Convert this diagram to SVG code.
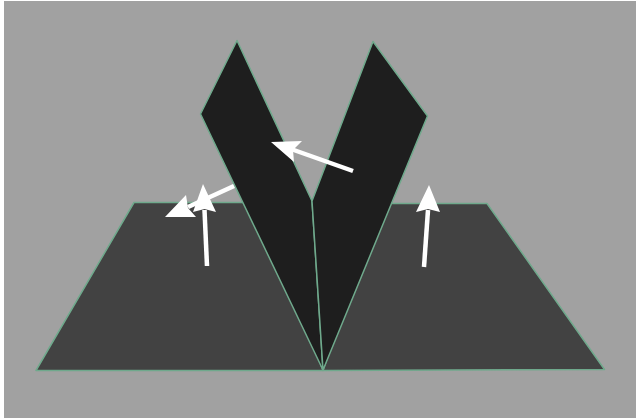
<svg xmlns="http://www.w3.org/2000/svg" width="636" height="418" viewBox="0 0 636 418">
<style>
.plane{fill:#424242;stroke:#6fa98c;stroke-width:1.5;stroke-linejoin:round}
.wing{fill:#1e1e1e;stroke:#6fa98c;stroke-width:1.5;stroke-linejoin:round}
.shaft{stroke:#fff;stroke-width:4.5;fill:none}
.head{fill:#fff}
</style>
<rect width="636" height="418" fill="#fff"/>
<rect x="4" y="1" width="632" height="417" fill="#a1a1a1"/>
<g id="floor-left"><polygon class="plane" points="134,202.500 260,202.500 323,370.500 36,370.500"/></g>
<g id="floor-right"><polygon class="plane" points="380,203.500 487,203.500 604.500,369.500 323,370.500"/></g>
<g id="wing-left"><polygon class="wing" points="237,40.500 312,201 323,370 200.500,114"/></g>
<g id="wing-right"><polygon class="wing" points="373,41.500 427.500,116 323,370 312,201"/></g>
<g id="connectors">
<line class="shaft" x1="353" y1="171" x2="291" y2="149"/>
<polygon class="head" points="271,142 302,141 293,150 294,162"/>
<line class="shaft" x1="234" y1="186" x2="188" y2="207"/>
<polygon class="head" points="165,217 186,195 188,208 196,217"/>
<line class="shaft" x1="207" y1="266" x2="204.500" y2="210"/>
<polygon class="head" points="203,184 216,212 204.500,209 193,212"/>
<line class="shaft" x1="424" y1="267" x2="428" y2="210"/>
<polygon class="head" points="429,185 440,212 428,209 416,212"/>
</g>
</svg>
